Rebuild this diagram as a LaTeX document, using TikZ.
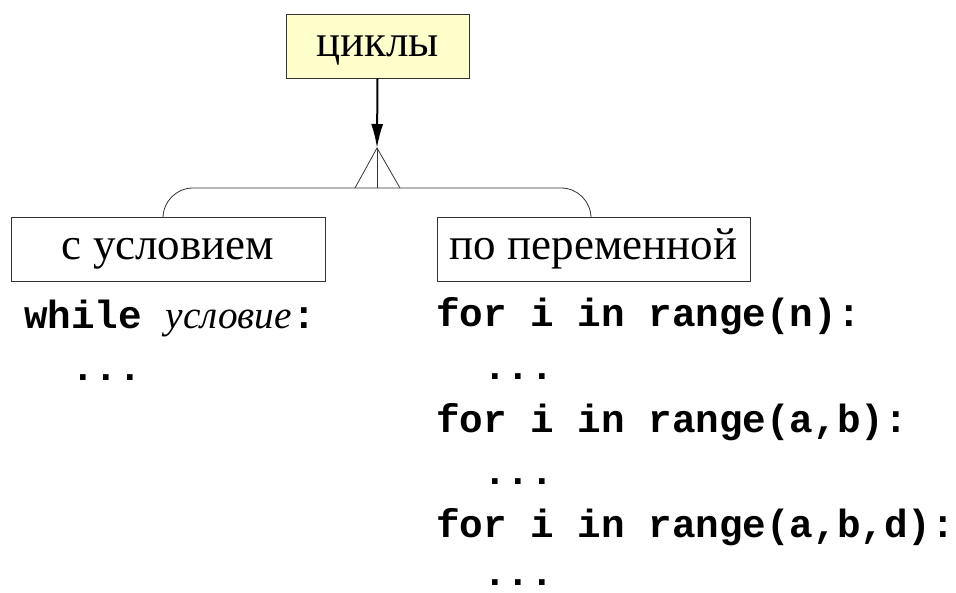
\documentclass[tikz,border=0pt]{standalone}
\usepackage{fontspec}
\setmainfont{Liberation Serif}
\setmonofont{Liberation Mono}
\usetikzlibrary{arrows.meta}
\definecolor{boxyellow}{HTML}{FFFFCC}
\definecolor{edgegray}{HTML}{333333}
\tikzset{
  box/.style={draw=edgegray, line width=0.9pt, inner sep=0pt, minimum height=64pt,
    text height=28pt, text depth=6pt,
    font=\fontsize{45}{54}\selectfont},
  codeline/.style={anchor=base west, inner sep=0pt,
    font=\fontsize{39.3}{47}\selectfont\ttfamily\bfseries},
  dotsline/.style={codeline, text depth=0pt, text height=6pt},
  thin/.style={draw=edgegray, line width=0.8pt},
}
\begin{document}
\begin{tikzpicture}[x=1pt,y=-1pt]
\useasboundingbox (0,0) rectangle (956,593);
\node[box, fill=boxyellow, minimum width=183pt] (top) at (377.5,46) {циклы};
\node[box, minimum width=314pt] (L) at (168,249) {с условием};
\node[box, minimum width=313pt] (R) at (593.5,249) {по переменной};
\coordinate (tip) at (377,148);
\coordinate (f1) at (355,188);
\coordinate (f2) at (377,188);
\coordinate (f3) at (400,188);
\coordinate (bl) at (163,217);
\coordinate (br) at (591,217);
\draw[line width=2pt, -{Latex[length=24pt,width=12pt]}] (top.south) -- (tip);
\draw[thin] (f1) -- (tip) -- (f3);
\draw[thin] (tip) -- (f2);
\draw[thin, rounded corners=30pt] (bl) |- (f2 -| br) -- (br);
\node[codeline] (w1) at (24,329) {while \textmd{\textit{\rmfamily условие}}:};
\node[dotsline] (w2) at (24,381) {\ \ ...};
\node[codeline] (a1) at (436,327) {for i in range(n):};
\node[dotsline] (a2) at (436,380) {\ \ ...};
\node[codeline] (a3) at (436,432) {for i in range(a,b):};
\node[dotsline] (a4) at (436,484) {\ \ ...};
\node[codeline] (a5) at (436,537) {for i in range(a,b,d):};
\node[dotsline] (a6) at (436,585) {\ \ ...};
\end{tikzpicture}
\end{document}
